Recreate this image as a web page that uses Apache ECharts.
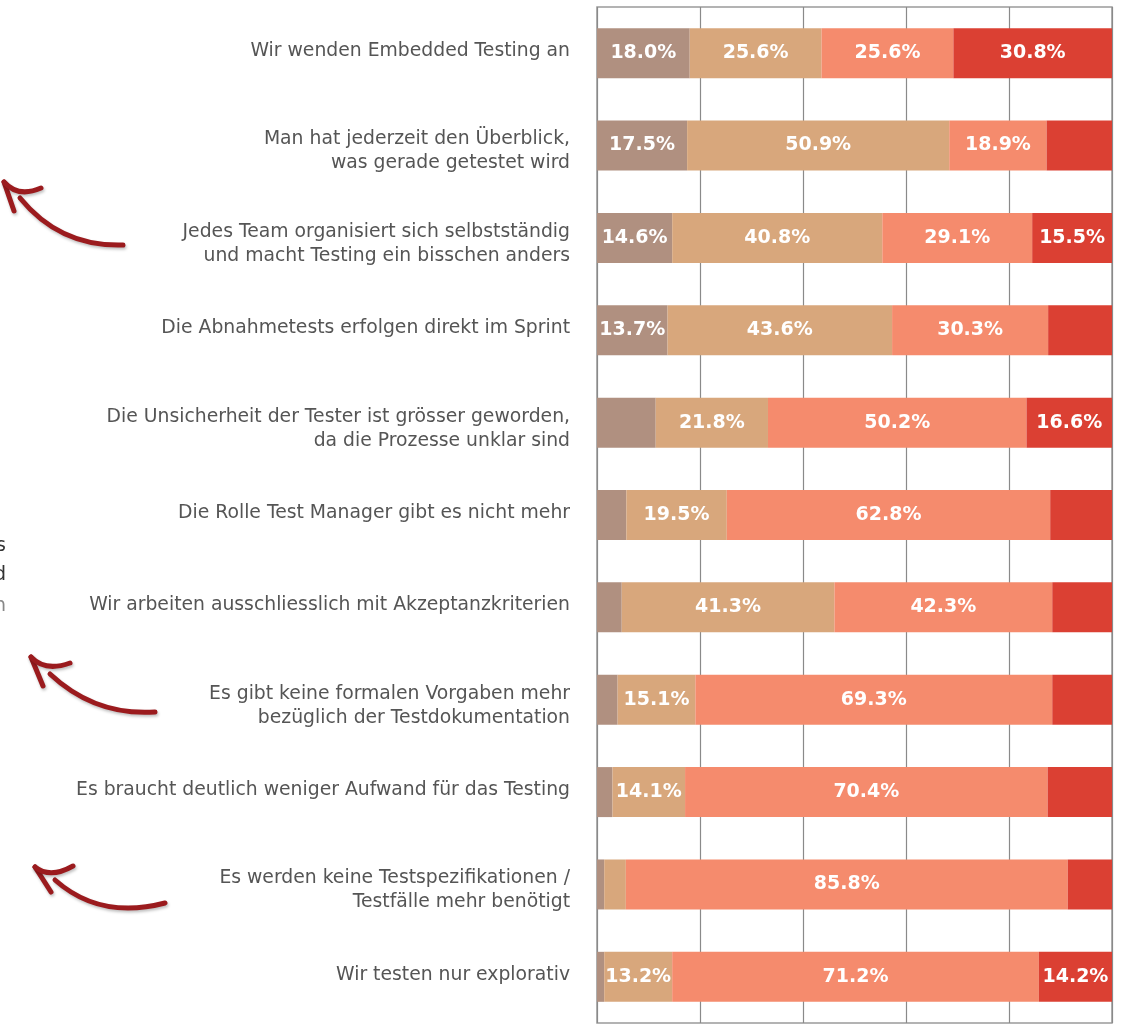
<!DOCTYPE html>
<html><head><meta charset="utf-8">
<script src="https://cdn.jsdelivr.net/npm/echarts@6/dist/echarts.min.js"></script>
<style>html,body{margin:0;padding:0;background:#fff}#c{width:1136px;height:1028px}</style>
</head><body><div id="c"></div>
<script>
const categories = [
  "Wir wenden Embedded Testing an",
  "Man hat jederzeit den Überblick,\nwas gerade getestet wird",
  "Jedes Team organisiert sich selbstständig\nund macht Testing ein bisschen anders",
  "Die Abnahmetests erfolgen direkt im Sprint",
  "Die Unsicherheit der Tester ist grösser geworden,\nda die Prozesse unklar sind",
  "Die Rolle Test Manager gibt es nicht mehr",
  "Wir arbeiten ausschliesslich mit Akzeptanzkriterien",
  "Es gibt keine formalen Vorgaben mehr\nbezüglich der Testdokumentation",
  "Es braucht deutlich weniger Aufwand für das Testing",
  "Es werden keine Testspezifikationen /\nTestfälle mehr benötigt",
  "Wir testen nur explorativ"
];
const seriesA = [18.0, 17.5, 14.6, 13.7, 11.4, 5.7, 4.8, 4.0, 3.0, 1.4, 1.4];
const seriesB = [25.6, 50.9, 40.8, 43.6, 21.8, 19.5, 41.3, 15.1, 14.1, 4.2, 13.2];
const seriesC = [25.6, 18.9, 29.1, 30.3, 50.2, 62.8, 42.3, 69.3, 70.4, 85.8, 71.2];
const seriesD = [30.8, 12.7, 15.5, 12.4, 16.6, 12.0, 11.6, 11.6, 12.5, 8.6, 14.2];
const xTicks = [0, 20, 40, 60, 80, 100];

const colors = ['#B09080', '#D8A77C', '#F58B6D', '#DB4033'];
const labelCfg = {
  show: true, position: 'inside', color: '#fff', fontWeight: 'bold',
  fontFamily: 'DejaVu Sans', fontSize: 19,
  formatter: p => p.value >= 13 ? p.value.toFixed(1) + '%' : ''
};
function mk(name, data, i) {
  return { name, type: 'bar', stack: 'all', data, barWidth: 50,
    itemStyle: { color: colors[i] }, label: labelCfg, emphasis: { disabled: true } };
}
const arrowStyle = { stroke: '#9B1B1E', lineWidth: 5, lineCap: 'round', fill: null,
  shadowBlur: 3, shadowColor: 'rgba(0,0,0,0.25)', shadowOffsetX: 1, shadowOffsetY: 2 };
function arrow(tip, headDown, headCtrl, headEnd, s0, sCtrl, s1) {
  return [
    { type: 'bezierCurve', shape: { x1: s0[0], y1: s0[1], cpx1: sCtrl[0], cpy1: sCtrl[1], x2: s1[0], y2: s1[1] }, style: arrowStyle },
    { type: 'line', shape: { x1: tip[0], y1: tip[1], x2: headDown[0], y2: headDown[1] }, style: arrowStyle },
    { type: 'bezierCurve', shape: { x1: tip[0], y1: tip[1], cpx1: headCtrl[0], cpy1: headCtrl[1], x2: headEnd[0], y2: headEnd[1] }, style: arrowStyle }
  ];
}
const graphics = [].concat(
  arrow([4, 182], [14, 211], [18, 198], [41, 188], [20, 198], [60, 247], [123, 245]),
  arrow([31, 657], [43, 686], [45, 672], [70, 663], [50, 674], [95, 716], [155, 712]),
  arrow([35, 867], [51, 892], [50, 879], [73, 866], [55, 880], [100, 920], [165, 903]),
  [
    { type: 'text', x: 6, y: 546, style: { text: 's', fill: '#333', font: '19px "DejaVu Sans"', textAlign: 'right', textVerticalAlign: 'middle' } },
    { type: 'text', x: 6, y: 575, style: { text: 'd', fill: '#333', font: '19px "DejaVu Sans"', textAlign: 'right', textVerticalAlign: 'middle' } },
    { type: 'text', x: 6, y: 606, style: { text: 'n', fill: '#888', font: '19px "DejaVu Sans"', textAlign: 'right', textVerticalAlign: 'middle' } }
  ]
);

const chart = echarts.init(document.getElementById('c'));
chart.setOption({
  animation: false,
  backgroundColor: '#fff',
  grid: { left: 597, right: 24, top: 7, bottom: 5, show: true, borderColor: '#9a9a9a', borderWidth: 1.5 },
  xAxis: { type: 'value', min: xTicks[0], max: xTicks[xTicks.length - 1], interval: 20,
    axisLabel: { show: false }, axisLine: { show: false }, axisTick: { show: false },
    splitLine: { show: true, lineStyle: { color: '#8a8a8a', width: 1.2 } } },
  yAxis: { type: 'category', data: categories, inverse: true,
    axisLine: { show: false }, axisTick: { show: false },
    axisLabel: { margin: 27, color: '#555', fontSize: 18.8, fontFamily: 'DejaVu Sans', lineHeight: 24, align: 'right',
      formatter: v => {
        const lines = v.split('\n');
        if (lines.length > 1) return '{gap| }\n' + lines.map(l => '{t|' + l + '}').join('\n');
        return '{t|' + v + '}\n{gap2| }';
      },
      rich: {
        t: { color: '#555', fontSize: 18.8, fontFamily: 'DejaVu Sans', lineHeight: 24 },
        gap: { fontSize: 4, lineHeight: 12 },
        gap2: { fontSize: 4, lineHeight: 4 }
      } } },
  series: [mk('A', seriesA, 0), mk('B', seriesB, 1), mk('C', seriesC, 2), mk('D', seriesD, 3)],
  graphic: graphics
});
</script></body></html>
